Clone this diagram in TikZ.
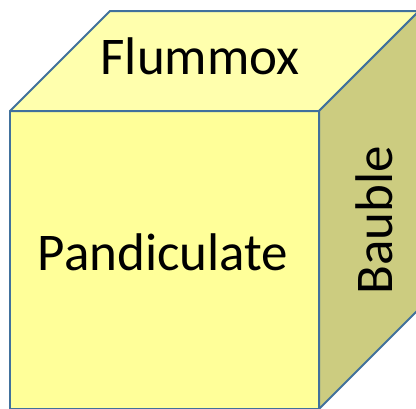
\documentclass[tikz,border=0pt]{standalone}
\usepackage{fontspec}
\setmainfont{Carlito}
\definecolor{edge}{RGB}{65,113,156}
\definecolor{frontfill}{RGB}{255,255,153}
\definecolor{topfill}{RGB}{255,255,173}
\definecolor{sidefill}{RGB}{204,204,128}
\begin{document}
\begin{tikzpicture}[x=1pt,y=-1pt,
    face/.style={draw=edge,line width=2pt,line join=round},
    word/.style={font=\fontsize{53}{60}\selectfont,anchor=base,inner sep=0pt}]
  \useasboundingbox (0,0) rectangle (416,408);
  \clip (0,0) rectangle (416,408);
  \draw
    (10,111) coordinate (ftl)
    (319,111) coordinate (ftr)
    (319,409) coordinate (fbr)
    (10,409) coordinate (fbl)
    (110,11) coordinate (btl)
    (419,11) coordinate (btr)
    (419,309) coordinate (bbr);
  % faces
  \draw[face,fill=frontfill] (ftl) -- (ftr) -- (fbr) -- (fbl) -- cycle;
  \draw[face,fill=topfill] (ftl) -- (btl) -- (btr) -- (ftr) -- cycle;
  \draw[face,fill=sidefill] (ftr) -- (btr) -- (bbr) -- (fbr) -- cycle;
  % texts
  \node[word] (top) at (200,74) {Flummox};
  \node[word] (front) at (163,270) {Pandiculate};
  \node[word,rotate=90] (side) at (392,220) {Bauble};
\end{tikzpicture}
\end{document}
